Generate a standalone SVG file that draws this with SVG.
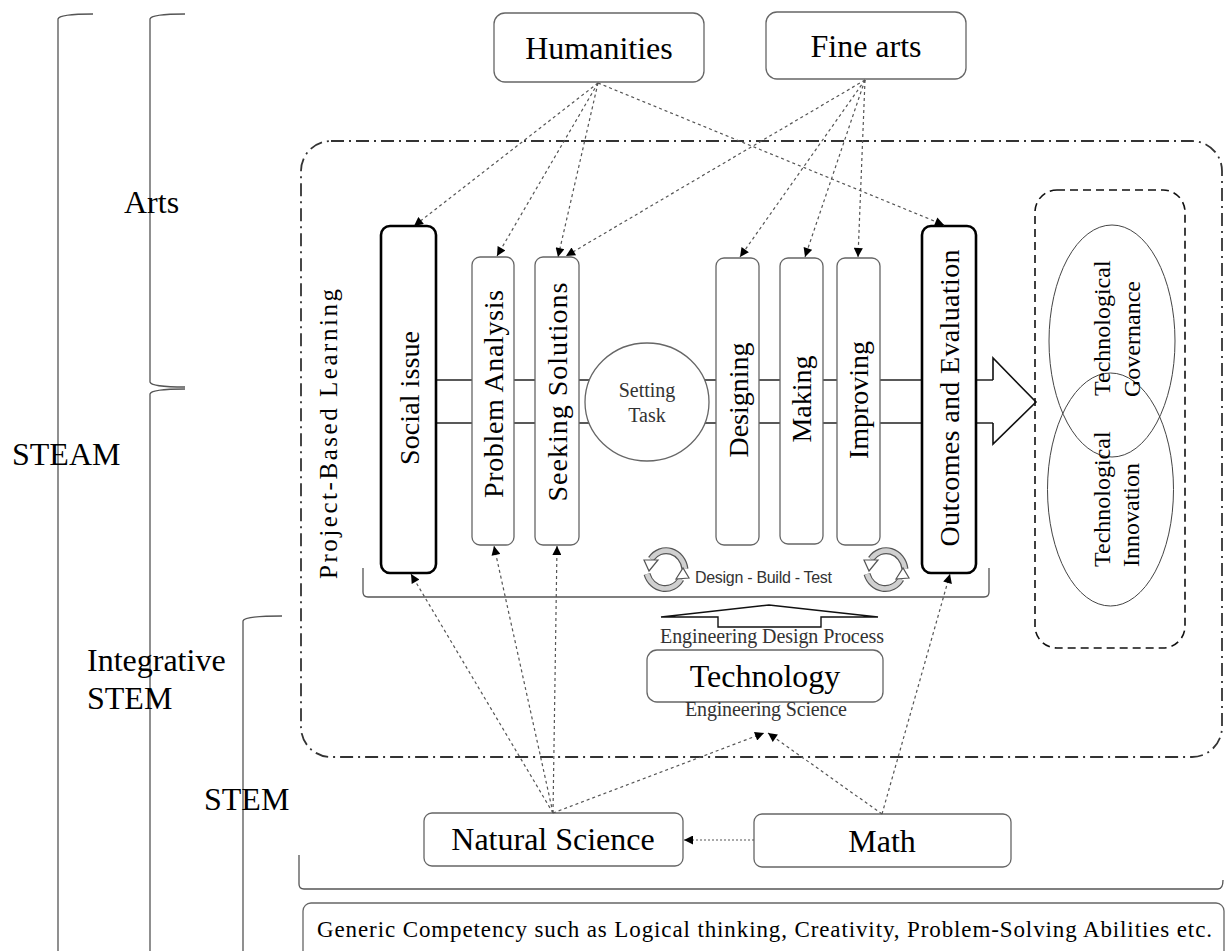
<svg xmlns="http://www.w3.org/2000/svg" width="1226" height="951" viewBox="0 0 1226 951">
<style>
.serif{font-family:"Liberation Serif","Times New Roman",serif;fill:#000}
.big{font-size:32px}
.vt{font-size:28px;text-anchor:middle}
.gray{fill:#333}
.sans{font-family:"Liberation Sans",Arial,sans-serif;fill:#333}
.brace{fill:none;stroke:#555;stroke-width:1.3}
.box{fill:#fff;stroke:#666;stroke-width:1.3}
.bold{fill:#fff;stroke:#000;stroke-width:2.6}
.conn line{stroke:#555;stroke-width:1.2;stroke-dasharray:3 3;fill:none}
.el{fill:none;stroke:#444;stroke-width:1}
</style>
<defs>
<marker id="ah" viewBox="0 0 10 10" refX="10" refY="5" markerWidth="11" markerHeight="9" markerUnits="userSpaceOnUse" orient="auto"><path d="M0,0 L10,5 L0,10 z" fill="#000"/></marker>
<g id="cyc">
<path d="M19,-1 A19,21 0 0 0 -15,-11" fill="none" stroke="#555" stroke-width="7"/>
<path d="M19,-1 A19,21 0 0 0 -15,-11" fill="none" stroke="#d0d0d0" stroke-width="4.6"/>
<path d="M-22,-10 L-8,-10 L-17,1 z" fill="#fff" stroke="#555" stroke-width="1.2"/>
<path d="M-19,4 A19,21 0 0 0 15,9" fill="none" stroke="#555" stroke-width="7"/>
<path d="M-19,4 A19,21 0 0 0 15,9" fill="none" stroke="#d0d0d0" stroke-width="4.6"/>
<path d="M10,9 L23,8 L17,-2 z" fill="#fff" stroke="#555" stroke-width="1.2"/>
</g>
</defs>

<!-- braces -->
<g id="braces">
<path class="brace" d="M93,14 Q59,14 58,19 L58,951"/>
<path class="brace" d="M185,14 Q151,14 150,19 L150,382 Q151,387 185,387"/>
<path class="brace" d="M185,389 Q151,389 150,394 L150,951"/>
<path class="brace" d="M282,616 Q244,616 243,621 L243,951"/>
<path class="brace" d="M299,855 L299,884 Q299,889 304,889 L1218,889 Q1223,889 1223,880"/>
</g>

<g id="side-labels">
<text class="serif big" x="124" y="213">Arts</text>
<text class="serif big" x="12" y="465">STEAM</text>
<text class="serif big" x="87" y="671">Integrative</text>
<text class="serif big" x="87" y="709">STEM</text>
<text class="serif big" x="204" y="810">STEM</text>
</g>

<!-- project-based learning frame -->
<g id="pbl">
<rect x="301" y="141" width="921" height="616" rx="30" fill="none" stroke="#333" stroke-width="1.8" stroke-dasharray="13 5 2 5"/>
<text class="serif" font-size="25" text-anchor="middle" textLength="290" transform="translate(337,434) rotate(-90)">Project-Based Learning</text>
</g>

<!-- band and big arrow -->
<g id="band">
<line x1="436" y1="380" x2="993" y2="380" stroke="#222" stroke-width="1.5"/>
<line x1="436" y1="423" x2="993" y2="423" stroke="#222" stroke-width="1.5"/>
<polyline points="993,380 993,358 1036,402 993,444 993,423" fill="none" stroke="#111" stroke-width="1.6"/>
</g>

<g id="bracket-process">
<path class="brace" d="M363,568 L363,592 Q363,597 368,597 L984,597 Q989,597 989,592 L989,568"/>
</g>

<g id="social">
<rect class="bold" x="381" y="226" width="55" height="347" rx="9"/>
<text class="serif vt" textLength="134" transform="translate(419,398) rotate(-90)">Social issue</text>
</g>
<g id="problem">
<rect class="box" x="472" y="257" width="42" height="288" rx="8"/>
<text class="serif vt" textLength="208" transform="translate(503,394) rotate(-90)">Problem Analysis</text>
</g>
<g id="seeking">
<rect class="box" x="535" y="257" width="44" height="288" rx="8"/>
<text class="serif vt" textLength="219" transform="translate(567,392) rotate(-90)">Seeking Solutions</text>
</g>
<g id="setting">
<ellipse cx="647" cy="402" rx="62" ry="59" fill="#fff" stroke="#666" stroke-width="1.3"/>
<text font-family="Liberation Serif, Times New Roman, serif" fill="#333" font-size="20" text-anchor="middle" x="647" y="397">Setting</text>
<text font-family="Liberation Serif, Times New Roman, serif" fill="#333" font-size="20" text-anchor="middle" x="647" y="422">Task</text>
</g>
<g id="designing">
<rect class="box" x="716" y="258" width="43" height="287" rx="8"/>
<text class="serif vt" transform="translate(748,400) rotate(-90)">Designing</text>
</g>
<g id="making">
<rect class="box" x="780" y="258" width="43" height="286" rx="8"/>
<text class="serif vt" transform="translate(811,399) rotate(-90)">Making</text>
</g>
<g id="improving">
<rect class="box" x="837" y="258" width="43" height="287" rx="8"/>
<text class="serif vt" transform="translate(868,400) rotate(-90)">Improving</text>
</g>
<g id="outcomes">
<rect class="bold" x="922" y="226" width="54" height="347" rx="9"/>
<text class="serif vt" textLength="297" transform="translate(959,398) rotate(-90)">Outcomes and Evaluation</text>
</g>

<g id="dbt">
<use href="#cyc" x="666" y="570"/>
<use href="#cyc" x="886" y="570"/>
<text class="sans" font-size="16" x="695" y="583" textLength="137">Design - Build - Test</text>
</g>

<g id="edp">
<polygon points="661,617 769,605 878,617 821,617 821,627 718,627 718,617" fill="#fff" stroke="#111" stroke-width="1.4"/>
<text class="serif gray" font-size="20" x="660" y="643" textLength="224">Engineering Design Process</text>
</g>

<g id="technology">
<rect class="box" x="647" y="650" width="236" height="52" rx="10"/>
<text class="serif big" text-anchor="middle" x="765" y="687">Technology</text>
<text class="serif gray" font-size="20" x="685" y="716" textLength="162">Engineering Science</text>
</g>

<g id="outcome-frame">
<rect x="1035" y="190" width="150" height="458" rx="22" fill="none" stroke="#111" stroke-width="1.6" stroke-dasharray="8 5"/>
<ellipse class="el" cx="1112" cy="341" rx="63" ry="116"/>
<ellipse class="el" cx="1110.5" cy="489.5" rx="63" ry="116.5"/>
<text class="serif" font-size="24" transform="translate(1110,396) rotate(-90)">Technological</text>
<text class="serif" font-size="24" transform="translate(1140,397) rotate(-90)">Governance</text>
<text class="serif" font-size="24" transform="translate(1110,567) rotate(-90)">Technological</text>
<text class="serif" font-size="24" transform="translate(1139,567) rotate(-90)">Innovation</text>
</g>

<g id="humanities">
<rect class="box" x="494" y="13" width="210" height="69" rx="11"/>
<text class="serif big" text-anchor="middle" x="599" y="59">Humanities</text>
</g>
<g id="finearts">
<rect class="box" x="766" y="12" width="200" height="67" rx="11"/>
<text class="serif big" text-anchor="middle" x="866" y="57">Fine arts</text>
</g>

<g id="natsci">
<rect class="box" x="424" y="813" width="259" height="53" rx="8"/>
<text class="serif big" text-anchor="middle" x="553" y="850">Natural Science</text>
</g>
<g id="math">
<rect class="box" x="754" y="814" width="257" height="53" rx="8"/>
<text class="serif big" text-anchor="middle" x="882" y="852">Math</text>
</g>

<g id="generic">
<rect class="box" x="303" y="903" width="921" height="70" rx="8"/>
<text class="serif" font-size="23" x="317" y="937" textLength="895">Generic Competency such as Logical thinking, Creativity, Problem-Solving Abilities etc.</text>
</g>

<g id="connectors" class="conn">
<line x1="598" y1="83" x2="414" y2="226" marker-end="url(#ah)"/>
<line x1="598" y1="83" x2="497" y2="256" marker-end="url(#ah)"/>
<line x1="598" y1="83" x2="558" y2="257" marker-end="url(#ah)"/>
<line x1="598" y1="83" x2="944" y2="225" marker-end="url(#ah)"/>
<line x1="865" y1="80" x2="566" y2="256" marker-end="url(#ah)"/>
<line x1="865" y1="80" x2="740" y2="257" marker-end="url(#ah)"/>
<line x1="865" y1="80" x2="805" y2="257" marker-end="url(#ah)"/>
<line x1="865" y1="80" x2="858" y2="257" marker-end="url(#ah)"/>
<line x1="553" y1="813" x2="411" y2="574" marker-end="url(#ah)"/>
<line x1="553" y1="813" x2="494" y2="546" marker-end="url(#ah)"/>
<line x1="553" y1="813" x2="557" y2="546" marker-end="url(#ah)"/>
<line x1="553" y1="813" x2="764" y2="733" marker-end="url(#ah)"/>
<line x1="882" y1="814" x2="950" y2="574" marker-end="url(#ah)"/>
<line x1="882" y1="814" x2="768" y2="733" marker-end="url(#ah)"/>
<line x1="754" y1="840" x2="684" y2="840" marker-end="url(#ah)" style="stroke-dasharray:2 2"/>
</g>
</svg>
